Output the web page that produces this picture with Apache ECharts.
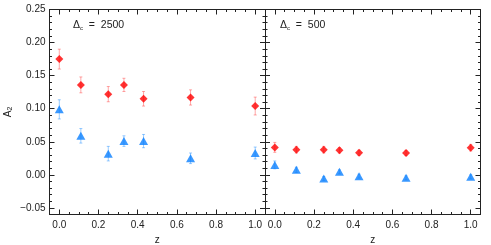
<!DOCTYPE html>
<html><head><meta charset="utf-8">
<script src="https://cdn.jsdelivr.net/npm/echarts@6/dist/echarts.min.js"></script>
<style>html,body{margin:0;padding:0;background:#fff}#c{width:491px;height:245px}</style>
</head><body><div id="c"></div>
<script>
// ---- data ----
const zValues = [0.0, 0.11, 0.25, 0.33, 0.43, 0.67, 1.0];
// Delta_c = 2500
const red2500 = [0.175, 0.136, 0.122, 0.136, 0.115, 0.117, 0.104];
const red2500Err = [0.015, 0.012, 0.0115, 0.010, 0.011, 0.0115, 0.0135];
const blue2500 = [0.099, 0.059, 0.032, 0.051, 0.051, 0.025, 0.033];
const blue2500Err = [0.0145, 0.011, 0.011, 0.008, 0.010, 0.008, 0.009];
// Delta_c = 500
const red500 = [0.0415, 0.038, 0.038, 0.037, 0.0333, 0.033, 0.041];
const red500Err = [0.0075, 0.005, 0.005, 0.004, 0.004, 0.004, 0.005];
const blue500 = [0.015, 0.0075, -0.0055, 0.0045, -0.002, -0.0045, -0.003];
const blue500Err = [0.006, 0.004, 0.003, 0.003, 0.003, 0.003, 0.003];
// ticks
const yMajorTicks = [-0.05, 0.0, 0.05, 0.10, 0.15, 0.20, 0.25];
const yMinorTicks = [-0.06,-0.04,-0.03,-0.02,-0.01,0.01,0.02,0.03,0.04,0.06,0.07,0.08,0.09,0.11,0.12,0.13,0.14,0.16,0.17,0.18,0.19,0.21,0.22,0.23,0.24];
const xMajorTicks = [0.0, 0.2, 0.4, 0.6, 0.8, 1.0];
const xMinorTicks = [0.05,0.10,0.15,0.25,0.30,0.35,0.45,0.50,0.55,0.65,0.70,0.75,0.85,0.90,0.95];
const panelLabels = ['2500', '500'];

const X_MIN = -0.05, X_MAX = 1.05, Y_MIN = -0.06, Y_MAX = 0.25;
const FONT = 'Liberation Sans';
const INK = '#222';
const grids = [
  {left: 49.5, top: 9.5, width: 215.5, height: 205},
  {left: 265, top: 9.5, width: 215.5, height: 205}
];

const xAxes = [], yAxes = [], series = [];
function fmtY(v){ return v.toFixed(2).replace('-', '\u2212'); }
const lineOn = {show:true, onZero:false, lineStyle:{color:INK,width:1}};
const lineOff = {show:false, onZero:false};

grids.forEach((g, gi) => {
  const xMainIdx = xAxes.length;
  xAxes.push({type:'value', gridIndex:gi, position:'bottom', offset:0, min:X_MIN, max:X_MAX,
    name:'z', nameLocation:'middle', nameGap:21, nameTextStyle:{fontFamily:FONT,fontSize:10,color:INK},
    axisLine:lineOn,
    axisTick:{show:true, inside:true, length:5, customValues:xMajorTicks, lineStyle:{color:INK}},
    axisLabel:{show:true, customValues:xMajorTicks, formatter:v=>v.toFixed(1), fontFamily:FONT, fontSize:10, color:INK, margin:6},
    splitLine:{show:false}});
  xAxes.push({type:'value', gridIndex:gi, position:'bottom', offset:0, min:X_MIN, max:X_MAX,
    axisLine:lineOff, axisTick:{show:true, inside:true, length:2.5, customValues:xMinorTicks, lineStyle:{color:INK}},
    axisLabel:{show:false}, splitLine:{show:false}});
  xAxes.push({type:'value', gridIndex:gi, position:'top', offset:0, min:X_MIN, max:X_MAX,
    axisLine:lineOn,
    axisTick:{show:true, inside:true, length:5, customValues:xMajorTicks, lineStyle:{color:INK}},
    axisLabel:{show:false}, splitLine:{show:false}});
  xAxes.push({type:'value', gridIndex:gi, position:'top', offset:0, min:X_MIN, max:X_MAX,
    axisLine:lineOff, axisTick:{show:true, inside:true, length:2.5, customValues:xMinorTicks, lineStyle:{color:INK}},
    axisLabel:{show:false}, splitLine:{show:false}});

  const yMainIdx = yAxes.length;
  yAxes.push({type:'value', gridIndex:gi, position:'left', offset:0, min:Y_MIN, max:Y_MAX,
    name: gi===0 ? 'A{s|2}' : '', nameLocation:'middle', nameGap:36, nameRotate:90,
    nameTextStyle:{fontFamily:FONT,fontSize:10,color:INK, rich:{s:{fontFamily:FONT,fontSize:7,verticalAlign:'bottom',padding:[4,0,0,0],color:INK}}},
    axisLine:lineOn,
    axisTick:{show:true, inside:true, length:5, customValues:yMajorTicks, lineStyle:{color:INK}},
    axisLabel:{show: gi===0, customValues:yMajorTicks, formatter:fmtY, fontFamily:FONT, fontSize:10, color:INK, margin:4},
    splitLine:{show:false}});
  yAxes.push({type:'value', gridIndex:gi, position:'left', offset:0, min:Y_MIN, max:Y_MAX,
    axisLine:lineOff, axisTick:{show:true, inside:true, length:2.5, customValues:yMinorTicks, lineStyle:{color:INK}},
    axisLabel:{show:false}, splitLine:{show:false}});
  yAxes.push({type:'value', gridIndex:gi, position:'right', offset:0, min:Y_MIN, max:Y_MAX,
    axisLine:lineOn,
    axisTick:{show:true, inside:true, length:5, customValues:yMajorTicks, lineStyle:{color:INK}},
    axisLabel:{show:false}, splitLine:{show:false}});
  yAxes.push({type:'value', gridIndex:gi, position:'right', offset:0, min:Y_MIN, max:Y_MAX,
    axisLine:lineOff, axisTick:{show:true, inside:true, length:2.5, customValues:yMinorTicks, lineStyle:{color:INK}},
    axisLabel:{show:false}, splitLine:{show:false}});

  const reds = gi===0 ? red2500 : red500, redE = gi===0 ? red2500Err : red500Err;
  const blues = gi===0 ? blue2500 : blue500, blueE = gi===0 ? blue2500Err : blue500Err;

  function errSeries(vals, errs, color){
    return {type:'custom', xAxisIndex:xMainIdx, yAxisIndex:yMainIdx, z:1, silent:true,
      data: zValues.map((z,i)=>[z, vals[i]-errs[i], vals[i]+errs[i]]),
      encode:{x:0, y:[1,2]},
      renderItem:(params, api)=>{
        const lo = api.coord([api.value(0), api.value(1)]);
        const hi = api.coord([api.value(0), api.value(2)]);
        const cw = 1.5;
        const st = {stroke:color, lineWidth:1};
        return {type:'group', children:[
          {type:'line', shape:{x1:lo[0],y1:lo[1],x2:hi[0],y2:hi[1]}, style:st},
          {type:'line', shape:{x1:lo[0]-cw,y1:lo[1],x2:lo[0]+cw,y2:lo[1]}, style:st},
          {type:'line', shape:{x1:hi[0]-cw,y1:hi[1],x2:hi[0]+cw,y2:hi[1]}, style:st}
        ]};
      }};
  }
  series.push(errSeries(reds, redE, 'rgba(255,60,60,0.45)'));
  series.push(errSeries(blues, blueE, 'rgba(0,128,255,0.4)'));
  series.push({type:'scatter', xAxisIndex:xMainIdx, yAxisIndex:yMainIdx, z:3,
    data: zValues.map((z,i)=>[z, reds[i]]), symbol:'diamond', symbolSize:[8,8],
    itemStyle:{color:'#ff0000'}});
  series.push({type:'scatter', xAxisIndex:xMainIdx, yAxisIndex:yMainIdx, z:3,
    data: zValues.map((z,i)=>[z, blues[i]]), symbol:'triangle', symbolSize:[9,8],
    itemStyle:{color:'#0a7fff'}});
});

const chart = echarts.init(document.getElementById('c'), null, {renderer:'canvas'});
chart.setOption({
  animation:false,
  backgroundColor:'#fff',
  grid: grids.map(g=>Object.assign({containLabel:false, outerBoundsMode:'none'}, g)),
  xAxis: xAxes,
  yAxis: yAxes,
  series: series,
  graphic: panelLabels.map((lab, i)=>({
    type:'text', left: i===0 ? 73 : 280, top: 20, z:10,
    style:{text:'\u0394{s|c}  =  ' + lab, fontFamily:FONT, fontSize:10.5, fill:INK,
      rich:{s:{fontFamily:FONT, fontSize:6, verticalAlign:'bottom', padding:[5,0,0,0], fill:INK}}}
  }))
});
</script></body></html>
